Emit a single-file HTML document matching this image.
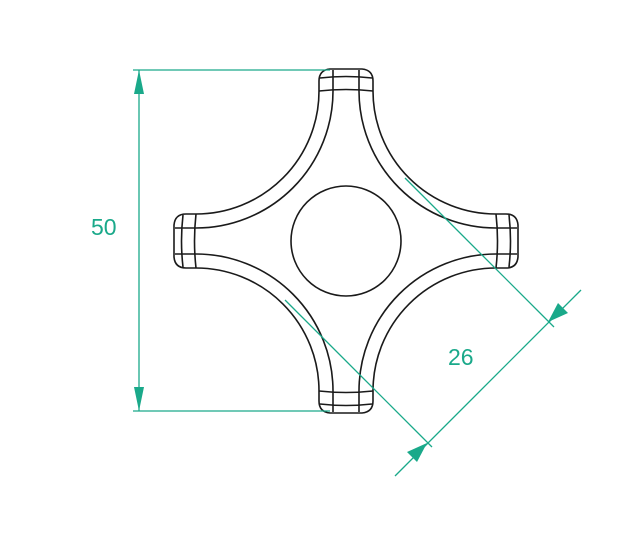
<!DOCTYPE html>
<html><head><meta charset="utf-8"><style>
html,body{margin:0;padding:0;background:#fff;}
svg{display:block}
text{font-family:"Liberation Sans",sans-serif;font-size:23px;fill:#1aa98a;}
</style></head><body>
<svg width="629" height="544" viewBox="0 0 629 544" xmlns="http://www.w3.org/2000/svg">
<defs>
<g id="arm" fill="none" stroke="#1a1a1a" stroke-width="1.6">
<path d="M-27,-150 L-27,-160 Q-27,-171 -16,-172 L16,-172 Q27,-171 27,-160 L27,-150"/>
<path d="M-13,-171 L-13,-150 M13,-171 L13,-150"/>
<path d="M-26,-163 Q0,-166 26,-163"/>
<path d="M-27,-150 Q0,-153 27,-150"/>
<path d="M-27,-150 A123,123 0 0 1 -150,-27"/>
<path d="M-13,-150 A137,137 0 0 1 -150,-13"/>
</g>
</defs>
<g transform="translate(346,241)">
<use href="#arm"/>
<use href="#arm" transform="rotate(90)"/>
<use href="#arm" transform="rotate(180)"/>
<use href="#arm" transform="rotate(270)"/>
<circle cx="0" cy="0" r="55" fill="none" stroke="#1a1a1a" stroke-width="1.6"/>
</g>
<g stroke="#1aa98a" stroke-width="1.3" fill="none">
<line x1="133" y1="70" x2="330" y2="70"/>
<line x1="133" y1="411" x2="330" y2="411"/>
<line x1="139" y1="70" x2="139" y2="411"/>
<line x1="405" y1="178" x2="554" y2="327"/>
<line x1="285" y1="300" x2="432" y2="447"/>
<line x1="581" y1="290" x2="395" y2="476"/>
</g>
<g fill="#1aa98a">
<polygon points="139,70 134,94 144,94"/>
<polygon points="139,411 134,387 144,387"/>
<polygon points="548,322 558,303 568,313"/>
<polygon points="427,443 417,462 407,452"/>
</g>
<text x="91" y="235">50</text>
<text x="448" y="365">26</text>
</svg>
</body></html>
